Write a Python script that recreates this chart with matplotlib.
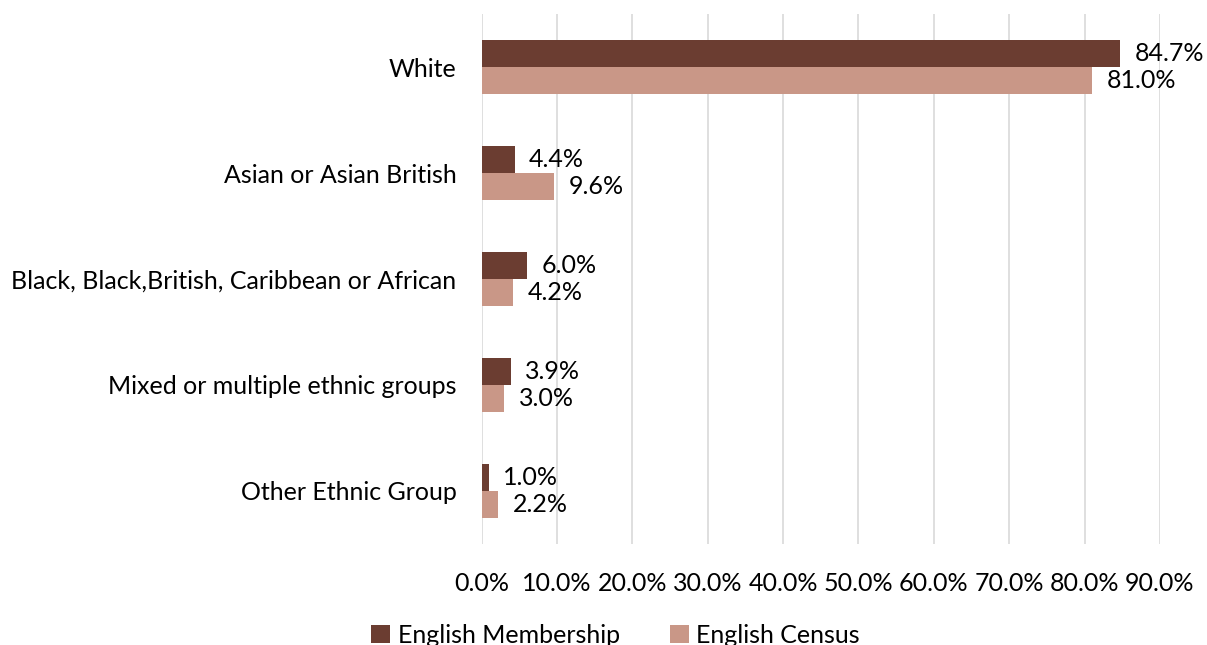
import numpy as np
import matplotlib.pyplot as plt

plt.rcParams['font.family'] = ['Lato', 'DejaVu Sans']

categories = ['White', 'Asian or Asian British', 'Black, Black,British, Caribbean or African',
              'Mixed or multiple ethnic groups', 'Other Ethnic Group']
membership = [84.7, 4.4, 6.0, 3.9, 1.0]
census = [81.0, 9.6, 4.2, 3.0, 2.2]

c_member = '#6b3d31'
c_census = '#c99787'
fs = 18

fig = plt.figure(figsize=(12.07, 6.45), dpi=100)
ax = fig.add_axes([0.399, 0.157, 0.562, 0.821])

y = np.arange(len(categories))
h = 0.255
ax.barh(y - h / 2, membership, height=h, color=c_member, label='English Membership', zorder=3)
ax.barh(y + h / 2, census, height=h, color=c_census, label='English Census', zorder=3)

for yi, v in zip(y, membership):
    ax.text(v + 1.9, yi - h / 2, f'{v:.1f}%', va='center', ha='left', fontsize=fs)
for yi, v in zip(y, census):
    ax.text(v + 1.9, yi + h / 2, f'{v:.1f}%', va='center', ha='left', fontsize=fs)

ax.set_xlim(0, 90)
ax.set_ylim(len(categories) - 0.5, -0.5)
ax.set_xticks(np.arange(0, 91, 10))
ax.set_xticklabels([f'{t:.1f}%' for t in np.arange(0, 91, 10)])
ax.set_yticks(y)
ax.set_yticklabels(categories)
ax.tick_params(axis='both', length=0, labelsize=fs)
ax.tick_params(axis='x', pad=20)
ax.tick_params(axis='y', pad=18)
ax.grid(axis='x', color='#d9d9d9', linewidth=1.2, zorder=0)
for s in ax.spines.values():
    s.set_visible(False)

fig.legend(loc='center', bbox_to_anchor=(0.51, 0.015), ncol=2, frameon=False,
           fontsize=fs, handlelength=0.75, handleheight=0.75, columnspacing=2.0,
           handletextpad=0.3)

fig.savefig('out.png', dpi=100)
